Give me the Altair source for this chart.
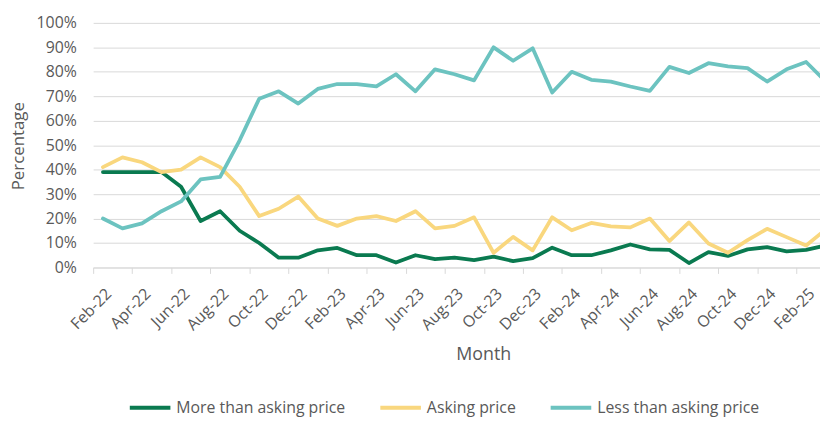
import altair as alt
import pandas as pd

months = ["Feb-22", "Mar-22", "Apr-22", "May-22", "Jun-22", "Jul-22", "Aug-22", "Sep-22",
          "Oct-22", "Nov-22", "Dec-22", "Jan-23", "Feb-23", "Mar-23", "Apr-23", "May-23",
          "Jun-23", "Jul-23", "Aug-23", "Sep-23", "Oct-23", "Nov-23", "Dec-23", "Jan-24",
          "Feb-24", "Mar-24", "Apr-24", "May-24", "Jun-24", "Jul-24", "Aug-24", "Sep-24",
          "Oct-24", "Nov-24", "Dec-24", "Jan-25", "Feb-25", "Mar-25"]

more_than = [39, 39, 39, 39, 33, 19, 23, 15, 10, 4, 4, 7, 8, 5, 5, 2, 5, 3.4, 4, 3,
             4.4, 2.6, 3.8, 8.1, 5, 5, 7, 9.4, 7.4, 7.2, 1.8, 6.3, 4.7, 7.4, 8.3, 6.6, 7.2, 9]
asking = [41, 45, 43, 39, 40, 45, 41, 33, 21, 24, 29, 20, 17, 20, 21, 19, 23, 16, 17, 20.5,
          6, 12.5, 7, 20.5, 15.2, 18.2, 16.8, 16.4, 20, 10.8, 18.4, 9.8, 6, 11.2, 15.8, 12.4, 9, 15.5]
less_than = [20, 16, 18, 23, 27, 36, 37, 52, 69, 72, 67, 73, 75, 75, 74, 79, 72, 81, 79, 76.5,
             90, 84.5, 89.6, 71.5, 80, 76.7, 76, 74, 72.2, 82, 79.5, 83.5, 82.2, 81.5, 76, 81, 84, 76]

series = ["More than asking price", "Asking price", "Less than asking price"]
colors = ["#0a7a50", "#f9d77e", "#6cc3c0"]

rows = []
for name, vals in zip(series, [more_than, asking, less_than]):
    for i, v in enumerate(vals):
        rows.append({"idx": i, "month": months[i], "series": name, "value": v / 100})
df = pd.DataFrame(rows)

FONT = "Open Sans"
GREY = "#595959"
months_js = "[" + ",".join("'" + m + "'" for m in months) + "]"

x_axis = alt.Axis(
    values=[-0.5 + 2 * k for k in range(19)],
    labelExpr=months_js + "[round(datum.value + 0.5)]",
    labelOffset=9.86,
    labelAngle=-45,
    labelFont=FONT, labelFontSize=16, labelColor=GREY,
    labelOverlap=False, labelFlush=False, labelPadding=12,
    domainColor="#d9d9d9", domainWidth=1,
    tickColor="#d9d9d9", tickSize=6, tickWidth=1,
    grid=False,
    title="Month", titleFont=FONT, titleFontSize=18, titleFontWeight="normal",
    titleColor=GREY, titleX=394, titleY=88, titleAlign="center", titleBaseline="middle",
)

y_axis = alt.Axis(
    values=[k / 10 for k in range(11)],
    format=".0%",
    labelFont=FONT, labelFontSize=16, labelColor=GREY, labelPadding=17,
    domain=False, ticks=False,
    grid=True, gridColor="#d9d9d9", gridWidth=1,
    title="Percentage", titleFont=FONT, titleFontSize=17, titleFontWeight="normal",
    titleColor=GREY, titleX=-70, titleY=124, titleAngle=270,
    titleAlign="center", titleBaseline="alphabetic",
)

color = alt.Color(
    "series:N",
    scale=alt.Scale(domain=series, range=colors),
    legend=alt.Legend(
        title=None, orient="none", legendX=35, legendY=366, direction="horizontal",
        symbolType="stroke", symbolSize=1681, symbolStrokeWidth=4,
        labelFont=FONT, labelFontSize=16, labelColor=GREY, labelOffset=4,
        labelLimit=0, columnPadding=27, padding=0,
    ),
)

layers = []
for s in series:
    layers.append(
        alt.Chart(df)
        .transform_filter(alt.datum.series == s)
        .mark_line(strokeWidth=3.8, strokeJoin="round", strokeCap="round", clip=True)
        .encode(
            x=alt.X("idx:Q", scale=alt.Scale(domain=[-0.5, 36.71], nice=False, zero=False), axis=x_axis),
            y=alt.Y("value:Q", scale=alt.Scale(domain=[0, 1], nice=False), axis=y_axis),
            color=color,
        )
    )

chart = (
    alt.layer(*layers)
    .properties(
        width=734, height=247,
        padding={"left": 86, "top": 13, "right": 0, "bottom": 150},
        autosize=alt.AutoSizeParams(type="none"),
        background="white",
    )
    .configure_view(stroke=None)
)

chart.save("out.html", embed_options={"renderer": "svg", "actions": False})
